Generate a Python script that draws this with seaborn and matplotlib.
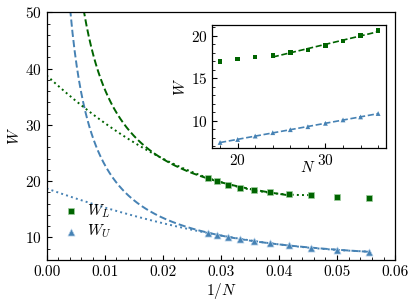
import numpy as np
import pandas as pd
import matplotlib
matplotlib.use("Agg")
import matplotlib.pyplot as plt
import seaborn as sns

# system sizes and measured widths
N = np.array([18, 20, 22, 24, 26, 28, 30, 32, 34, 36])
W_L = np.array([16.95, 17.25, 17.5, 17.65, 18.0, 18.35, 18.85, 19.4, 20.0, 20.6])
W_U = np.array([7.45, 7.8, 8.2, 8.6, 8.95, 9.3, 9.7, 10.1, 10.45, 10.85])

green = "#006400"
blue = "#4682b4"

sns.set_style("ticks")
plt.rcParams["font.family"] = "serif"
plt.rcParams["font.serif"] = ["cmr10", "DejaVu Serif"]
plt.rcParams["mathtext.fontset"] = "cm"
plt.rcParams["axes.formatter.use_mathtext"] = True
plt.rcParams["font.size"] = 11
for k in ["text.color", "axes.labelcolor", "xtick.color", "ytick.color", "axes.edgecolor"]:
    plt.rcParams[k] = "black"
plt.rcParams["xtick.direction"] = "in"
plt.rcParams["ytick.direction"] = "in"
plt.rcParams["xtick.minor.visible"] = True
plt.rcParams["ytick.minor.visible"] = True
plt.rcParams["xtick.major.size"] = 3.5
plt.rcParams["ytick.major.size"] = 3.5
plt.rcParams["xtick.minor.size"] = 2
plt.rcParams["ytick.minor.size"] = 2
plt.rcParams["axes.linewidth"] = 0.9

df = pd.DataFrame({"N": N, "x": 1.0 / N, "W_L": W_L, "W_U": W_U})

# fits: linear in N (dashed), quadratic in 1/N (dotted)
lin_L = np.polyfit(N[N >= 24], W_L[N >= 24], 1)
lin_U = np.polyfit(N, W_U, 1)
quad_L = np.polyfit(1.0 / N[N >= 22], W_L[N >= 22], 2)
quad_U = np.polyfit(1.0 / N, W_U, 2)

fig = plt.figure(figsize=(4.16, 3.08), dpi=100)
ax = fig.add_axes([0.112, 0.156, 0.838, 0.804])

xs = np.linspace(0.001, 1 / 24, 300)
ax.plot(xs, np.polyval(lin_L, 1 / xs), "--", color=green, lw=1.4)
xs = np.linspace(0.001, 1 / 18, 300)
ax.plot(xs, np.polyval(lin_U, 1 / xs), "--", color=blue, lw=1.4)
xs = np.linspace(0, 1 / 22, 200)
ax.plot(xs, np.polyval(quad_L, xs), ":", color=green, lw=1.4)
xs = np.linspace(0, 1 / 18, 200)
ax.plot(xs, np.polyval(quad_U, xs), ":", color=blue, lw=1.4)

sns.scatterplot(data=df, x="x", y="W_L", marker="s", color=green, s=22,
                edgecolor="#9fcf9f", linewidth=0.5, label="$W_L$", ax=ax, zorder=3)
sns.scatterplot(data=df, x="x", y="W_U", marker="^", color=blue, s=26,
                edgecolor="#b5d0e8", linewidth=0.5, label="$W_U$", ax=ax, zorder=3)

ax.set_xlim(0, 0.06)
ax.set_ylim(6, 50)
ax.set_xticks([0.0, 0.01, 0.02, 0.03, 0.04, 0.05, 0.06])
ax.set_xticklabels(["0.00", "0.01", "0.02", "0.03", "0.04", "0.05", "0.06"])
ax.set_yticks([10, 20, 30, 40, 50])
ax.set_xlabel("$1/N$", labelpad=2)
ax.set_ylabel("$W$", labelpad=2)
ax.legend(loc="lower left", bbox_to_anchor=(-0.01, 0.03), frameon=False,
          handletextpad=0.1, borderpad=0.3, labelspacing=0.2, fontsize=11)

# inset in N
axi = fig.add_axes([0.510, 0.519, 0.418, 0.40])
ns = np.linspace(24, 36, 50)
axi.plot(ns, np.polyval(lin_L, ns), "--", color=green, lw=1.2)
ns = np.linspace(18, 36, 50)
axi.plot(ns, np.polyval(lin_U, ns), "--", color=blue, lw=1.2)
sns.scatterplot(data=df, x="N", y="W_L", marker="s", color=green, s=10,
                edgecolor="none", ax=axi, zorder=3)
sns.scatterplot(data=df, x="N", y="W_U", marker="^", color=blue, s=12,
                edgecolor="none", ax=axi, zorder=3)
axi.set_xticks([20, 30])
axi.set_yticks([10, 15, 20])
axi.set_xlabel("$N$")
axi.set_ylabel("$W$", labelpad=2)
axi.xaxis.set_label_coords(0.55, -0.10)

fig.savefig("out.png", dpi=100)
